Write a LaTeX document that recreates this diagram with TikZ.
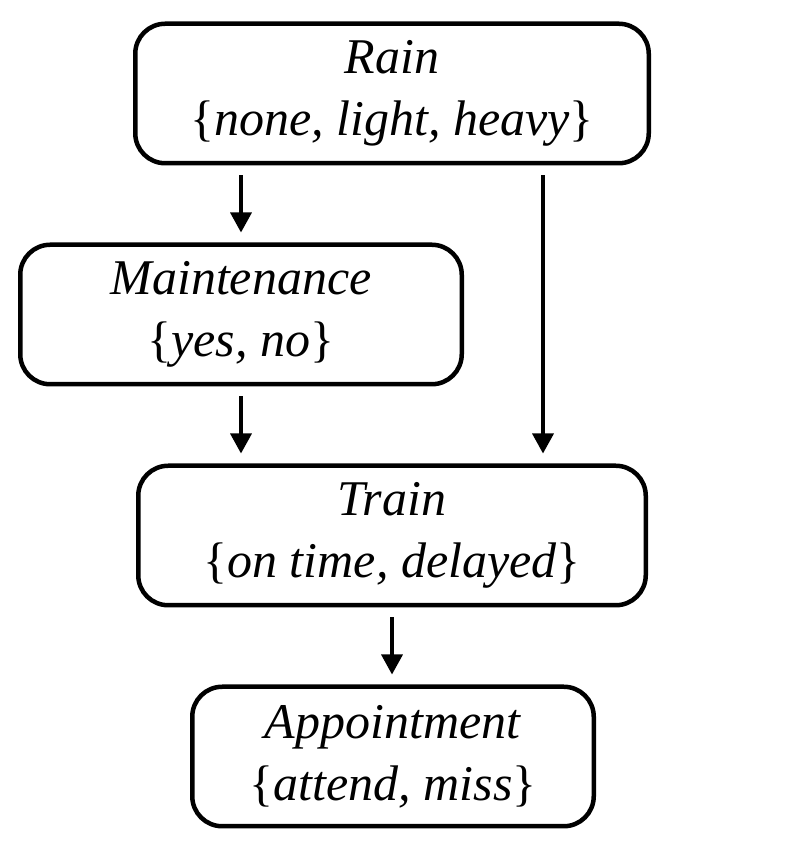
\documentclass[tikz,border=0pt]{standalone}
\usepackage{fontspec}
\setmainfont{Liberation Serif}
\usetikzlibrary{positioning,arrows.meta}

\tikzset{
  var/.style = {draw, line width=4.5pt, rounded corners=30pt, minimum height=139.5pt,
    align=center, inner sep=0pt, font=\fontsize{50}{62}\selectfont},
  dep/.style = {line width=3.5pt, -{Triangle[length=20pt,width=21pt]},
    shorten <=10pt, shorten >=10pt}
}

\begin{document}
\begin{tikzpicture}[x=1pt,y=1pt, node distance=77pt]
\useasboundingbox (0,0) rectangle (802,842);
\node [var, minimum width=513.5pt] (rain) at (392,748.5) {\textit{Rain}\\\{\textit{none, light, heavy}\}};
\node [var, minimum width=441.5pt, below = of rain, xshift=-151pt] (maint) {\textit{Maintenance}\\\{\textit{yes, no}\}};
\node [var, minimum width=507.5pt, below = of maint, xshift=151pt] (train) {\textit{Train}\\\{\textit{on time, delayed}\}};
\node [var, minimum width=401.5pt, below = of train, xshift=1pt] (appt) {\textit{Appointment}\\\{\textit{attend, miss}\}};
\draw [dep] (rain.south -| maint.north) -- (maint.north);
\draw [dep] ([xshift=151pt]rain.south) -- ([xshift=151pt]train.north);
\draw [dep] (maint.south) -- (maint.south |- train.north);
\draw [dep] (train.south) -- (train.south |- appt.north);
\end{tikzpicture}
\end{document}
